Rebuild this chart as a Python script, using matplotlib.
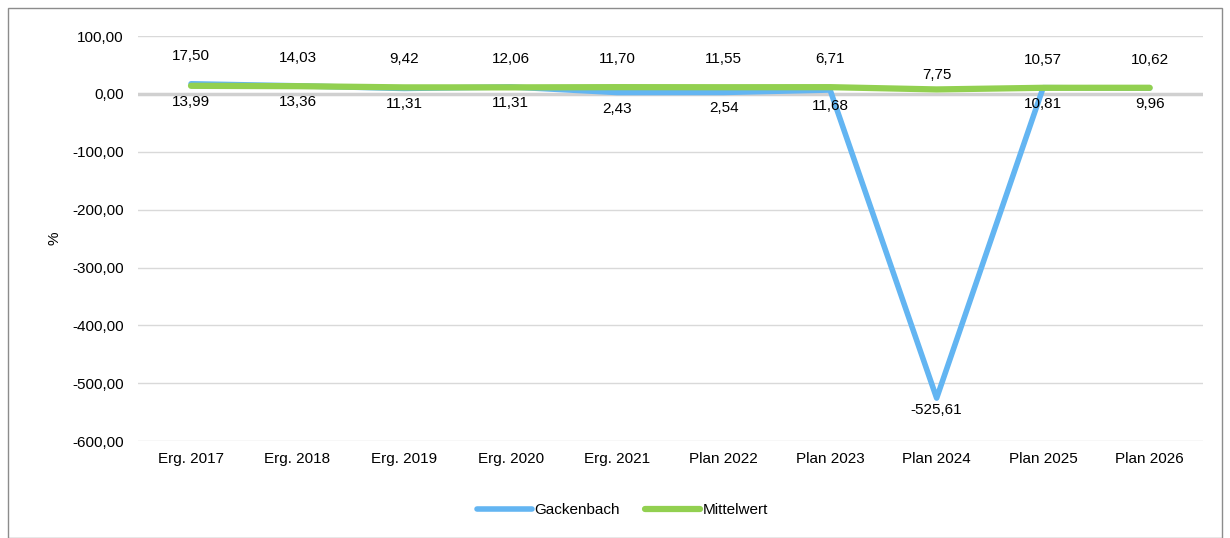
import matplotlib.pyplot as plt
import matplotlib.patches as patches
from matplotlib.ticker import FuncFormatter

plt.rcParams['font.family'] = ['Liberation Sans', 'DejaVu Sans']

categories = ["Erg. 2017", "Erg. 2018", "Erg. 2019", "Erg. 2020", "Erg. 2021",
              "Plan 2022", "Plan 2023", "Plan 2024", "Plan 2025", "Plan 2026"]
gackenbach = [17.50, 14.03, 9.42, 12.06, 2.43, 2.54, 6.71, -525.61, 10.81, 9.96]
mittelwert = [13.99, 13.36, 11.31, 11.31, 11.70, 11.55, 11.68, 7.75, 10.57, 10.62]
# which series carries the upper label in each category
gack_label_above = [True, True, True, True, False, False, True, False, False, False]

blue = "#63b5f2"
green = "#92d050"


def de_fmt(v):
    return f"{v:.2f}".replace(".", ",")


fig = plt.figure(figsize=(12.3, 5.38), dpi=100)
ax = fig.add_axes([0.112, 0.180, 0.866, 0.753])

x = list(range(len(categories)))
ax.plot(x, gackenbach, color=blue, lw=4, solid_capstyle="round", label="Gackenbach", zorder=3)
ax.plot(x, mittelwert, color=green, lw=4.5, solid_capstyle="round", label="Mittelwert", zorder=4)

# data labels
for i in x:
    g, m = gackenbach[i], mittelwert[i]
    if gack_label_above[i]:
        up, down = g, m
    else:
        up, down = m, g
    top_y = max(g, m)
    if up == mittelwert[i] and down < -100:
        # big dip: label mean just above its point, dip value below its point
        ax.annotate(de_fmt(up), (i, up), xytext=(0, 14), textcoords="offset pixels",
                    ha="center", va="center", fontsize=11)
        ax.annotate(de_fmt(down), (i, down), xytext=(0, -12), textcoords="offset pixels",
                    ha="center", va="center", fontsize=11)
        continue
    ax.annotate(de_fmt(up), (i, top_y), xytext=(0, 28), textcoords="offset pixels",
                ha="center", va="center", fontsize=11)
    ax.annotate(de_fmt(down), (i, min(g, m)), xytext=(0, -16), textcoords="offset pixels",
                ha="center", va="center", fontsize=11)

ax.set_xlim(-0.5, len(categories) - 0.5)
ax.set_ylim(-600, 100)
ax.set_yticks(range(-600, 101, 100))
ax.yaxis.set_major_formatter(FuncFormatter(lambda v, p: de_fmt(v)))
ax.set_xticks(x)
ax.set_xticklabels(categories)
ax.tick_params(axis="both", length=0, labelsize=11, pad=10)
ax.tick_params(axis="x", pad=8)

ax.grid(axis="y", color="#d9d9d9", lw=1)
ax.axhline(0, color="#d0d0d0", lw=2.5, zorder=1)
ax.set_axisbelow(True)
for s in ax.spines.values():
    s.set_visible(False)

ax.set_ylabel("%", fontsize=11, labelpad=8)

fig.legend(loc="center", bbox_to_anchor=(0.506, 0.052), ncol=2, frameon=False,
           fontsize=11, handlelength=3.6, handletextpad=0.15, columnspacing=1.7)

fig.patches.append(patches.Rectangle((8 / 1230, 0), 1214 / 1230, 530 / 538,
                                     transform=fig.transFigure, fill=False,
                                     edgecolor="#8c8c8c", lw=1))

fig.savefig("out.png", dpi=100)
